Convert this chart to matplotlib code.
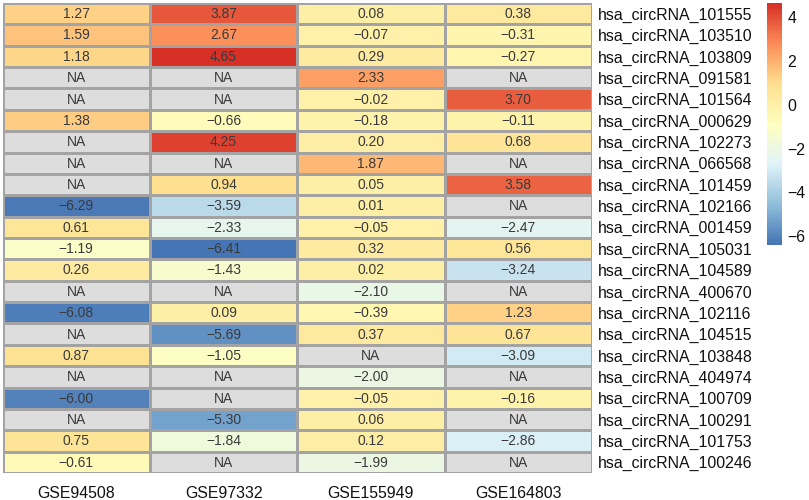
import numpy as np
import matplotlib
matplotlib.use("Agg")
import matplotlib.pyplot as plt
from matplotlib.colors import LinearSegmentedColormap

plt.rcParams['font.family'] = ['Liberation Sans', 'DejaVu Sans']

datasets = ["GSE94508", "GSE97332", "GSE155949", "GSE164803"]
circrnas = ["hsa_circRNA_101555", "hsa_circRNA_103510", "hsa_circRNA_103809",
            "hsa_circRNA_091581", "hsa_circRNA_101564", "hsa_circRNA_000629",
            "hsa_circRNA_102273", "hsa_circRNA_066568", "hsa_circRNA_101459",
            "hsa_circRNA_102166", "hsa_circRNA_001459", "hsa_circRNA_105031",
            "hsa_circRNA_104589", "hsa_circRNA_400670", "hsa_circRNA_102116",
            "hsa_circRNA_104515", "hsa_circRNA_103848", "hsa_circRNA_404974",
            "hsa_circRNA_100709", "hsa_circRNA_100291", "hsa_circRNA_101753",
            "hsa_circRNA_100246"]
NA = np.nan
gse94508 = [1.27, 1.59, 1.18, NA, NA, 1.38, NA, NA, NA, -6.29, 0.61, -1.19,
            0.26, NA, -6.08, NA, 0.87, NA, -6.00, NA, 0.75, -0.61]
gse97332 = [3.87, 2.67, 4.65, NA, NA, -0.66, 4.25, NA, 0.94, -3.59, -2.33, -6.41,
            -1.43, NA, 0.09, -5.69, -1.05, NA, NA, -5.30, -1.84, NA]
gse155949 = [0.08, -0.07, 0.29, 2.33, -0.02, -0.18, 0.20, 1.87, 0.05, 0.01, -0.05, 0.32,
             0.02, -2.10, -0.39, 0.37, NA, -2.00, -0.05, 0.06, 0.12, -1.99]
gse164803 = [0.38, -0.31, -0.27, NA, 3.70, -0.11, 0.68, NA, 3.58, NA, -2.47, 0.56,
             -3.24, NA, 1.23, 0.67, -3.09, NA, -0.16, NA, -2.86, NA]
cbar_ticks = [-6, -4, -2, 0, 2, 4]

values = np.array([gse94508, gse97332, gse155949, gse164803]).T
data = np.ma.masked_invalid(values)

cmap = LinearSegmentedColormap.from_list(
    "rdylbu", ["#4575B4", "#91BFDB", "#E0F3F8", "#FFFFBF", "#FEE090", "#FC8D59", "#D73027"], N=100)
cmap.set_bad("#DDDDDD")
vmin, vmax = np.nanmin(values), np.nanmax(values)

W, H = 809, 500
fig = plt.figure(figsize=(W / 100, H / 100), dpi=100)
ax = fig.add_axes([2.5 / W, 1 - 473 / H, 589.5 / W, 470 / H])
mesh = ax.pcolormesh(data, cmap=cmap, vmin=vmin, vmax=vmax,
                     edgecolors="#A3A3A3", linewidth=1.0)
ax.set_xlim(0, len(datasets))
ax.set_ylim(len(circrnas), 0)
for s in ax.spines.values():
    s.set_visible(False)

for i in range(len(circrnas)):
    for j in range(len(datasets)):
        v = values[i, j]
        txt = "NA" if np.isnan(v) else f"{v:.2f}".replace("-", "\u2212")
        ax.text(j + 0.5, i + 0.52, txt, ha="center", va="center",
                fontsize=10, color="#3A3A3A")

ax.set_xticks(np.arange(len(datasets)) + 0.5)
ax.set_xticklabels(datasets, fontsize=11.4, color="#111111")
ax.set_yticks(np.arange(len(circrnas)) + 0.5)
ax.set_yticklabels(circrnas, fontsize=11.4, color="#111111")
ax.yaxis.tick_right()
ax.tick_params(length=0, pad=4)
ax.tick_params(axis="x", pad=9)

cax = fig.add_axes([766.5 / W, 1 - 245 / H, 15.5 / W, 242 / H])
cb = fig.colorbar(mesh, cax=cax, ticks=cbar_ticks)
cb.outline.set_visible(False)
cb.ax.tick_params(length=0, labelsize=11.4, pad=4, labelcolor="#111111")
cb.ax.set_yticklabels([str(t).replace("-", "\u2212") for t in cbar_ticks])

fig.savefig("out.png", dpi=100)
